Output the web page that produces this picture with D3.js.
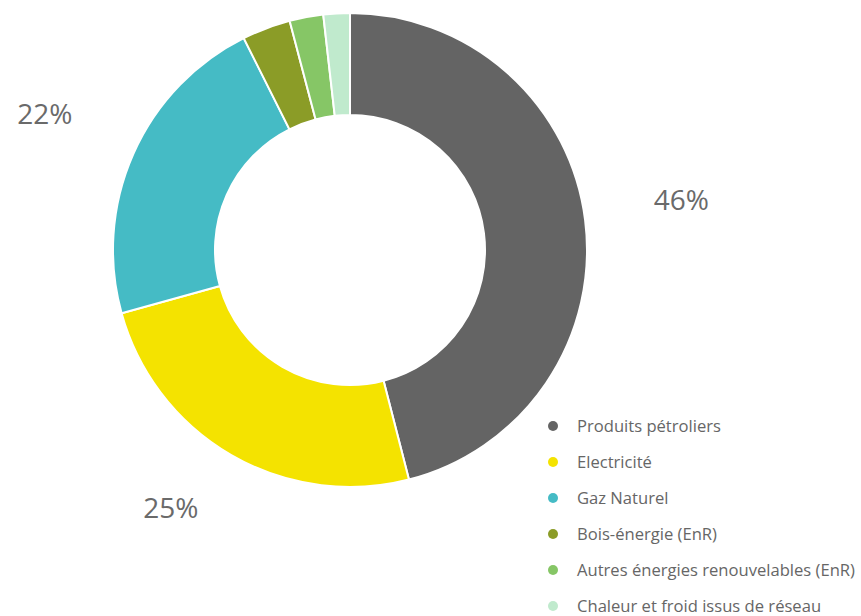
<!DOCTYPE html>
<html><head><meta charset="utf-8">
<script src="https://cdn.jsdelivr.net/npm/d3@7"></script>
<style>body{margin:0;background:#fff;font-family:"Open Sans",sans-serif;}</style>
</head><body><svg id="c" width="861" height="616"></svg>
<script>
const categories = ["Produits pétroliers","Electricité","Gaz Naturel","Bois-énergie (EnR)","Autres énergies renouvelables (EnR)","Chaleur et froid issus de réseau"];
const values = [46, 24.7, 21.9, 3.3, 2.3, 1.8];
const labels = ["46%","25%","22%","","",""];
const colors = ["#646464","#f4e300","#45bbc5","#8b9c27","#86c666","#c0eacd"];

const svg = d3.select("#c");
const cx = 350, cy = 250, rOut = 237, rIn = 135;
const pie = d3.pie().sort(null).value(d => d)(values);
const arc = d3.arc().innerRadius(rIn).outerRadius(rOut);
const g = svg.append("g").attr("transform", `translate(${cx},${cy})`);
g.selectAll("path").data(pie).join("path")
  .attr("d", arc).attr("fill", (d,i) => colors[i])
  .attr("stroke", "#fff").attr("stroke-width", 2);

const R = 334;
g.selectAll("text.lbl").data(pie).join("text").attr("class","lbl")
  .each(function(d,i){
    const a = (d.startAngle + d.endAngle)/2;
    let x = R*Math.sin(a), y = -R*Math.cos(a);
    if (y > 258) { x = x - 12; y = 258; }
    if (i === 0) { y -= 8; }
    d3.select(this).attr("x", x).attr("y", y).text(labels[i]);
  })
  .attr("text-anchor","middle").attr("dy","0.35em")
  .attr("font-size", 28).attr("fill", "#6a6a6a");

const leg = svg.append("g");
const ly = d3.scaleBand().domain(categories).range([408, 624]);
const items = leg.selectAll("g").data(categories).join("g")
  .attr("transform", d => `translate(553,${ly(d) + ly.bandwidth()/2})`);
items.append("circle").attr("r", 5).attr("fill", (d,i) => colors[i]);
items.append("text").attr("x", 24).attr("dy", "0.35em")
  .attr("font-size", 16.6).attr("fill", "#666").text(d => d);
</script></body></html>
